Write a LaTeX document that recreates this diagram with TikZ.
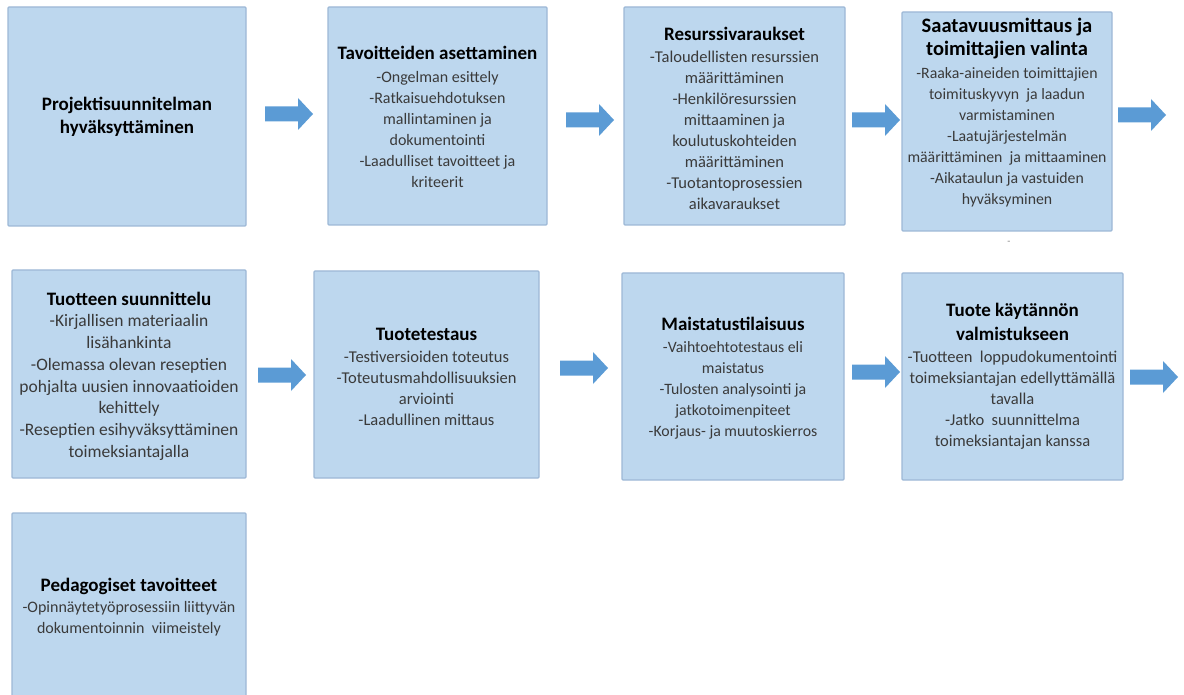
\documentclass[tikz,border=0pt]{standalone}
\usepackage{fontspec}
\setmainfont{Carlito}
\definecolor{boxfill}{HTML}{BDD7EE}
\definecolor{boxline}{HTML}{9DB8D6}
\definecolor{arrowblue}{HTML}{5B9BD5}
\definecolor{bodytext}{HTML}{3A3A3A}
\tikzset{
  procbox/.style={draw=boxline, fill=boxfill, line width=1.2pt, rounded corners=1pt},
  boxtext/.style={align=center, inner sep=0pt, text=bodytext, font=\fontsize{16}{21}\selectfont},
  blockarrow/.style={fill=arrowblue, draw=none},
}
\newcommand{\ttl}[1]{{\fontsize{19}{21}\selectfont\bfseries\color{black}#1}}
\newcommand{\ttlb}[1]{{\fontsize{20.5}{21}\selectfont\bfseries\color{black}#1}}
% block arrow: #1 name, #2 left x, #3 centre y
\newcommand{\blkarrow}[3]{%
  \coordinate (#1) at (#2,#3);
  \path[blockarrow] (#1) ++(0,-7.5) -- ++(33,0) -- ++(0,-8.5) -- ++(15,16) -- ++(-15,16) -- ++(0,-8.5) -- ++(-33,0) -- cycle;}
\begin{document}
\begin{tikzpicture}[x=1pt,y=-1pt]
\useasboundingbox (0,0) rectangle (1184,695);
\clip (0,0) rectangle (1184,695);
% boxes
\draw[procbox] (8,7) rectangle (246,226) coordinate (b1);
\draw[procbox] (328,7) rectangle (547,225) coordinate (b2);
\draw[procbox] (624,7) rectangle (845,225) coordinate (b3);
\draw[procbox] (902,12) rectangle (1112,231) coordinate (b4);
\draw[procbox] (12,270) rectangle (246,478) coordinate (b5);
\draw[procbox] (314,271) rectangle (539,478) coordinate (b6);
\draw[procbox] (622,273) rectangle (844,480) coordinate (b7);
\draw[procbox] (902,273) rectangle (1123,480) coordinate (b8);
\draw[procbox] (12,513) rectangle (246,720) coordinate (b9);
% texts
\node[boxtext] (t1) at (127,117) {\ttl{Projektisuunnitelman}\\[2pt]\ttl{hyväksyttäminen}};
\node[boxtext] (t2) at (437.5,117) {\ttl{Tavoitteiden asettaminen}\\[2pt]-Ongelman esittely\\-Ratkaisuehdotuksen\\mallintaminen ja\\dokumentointi\\-Laadulliset tavoitteet ja\\kriteerit};
\node[boxtext, font=\fontsize{16.5}{21}\selectfont] (t3) at (734.5,118) {\ttl{Resurssivaraukset}\\[1pt]-Taloudellisten resurssien\\määrittäminen\\-Henkilöresurssien\\mittaaminen ja\\koulutuskohteiden\\määrittäminen\\-Tuotantoprosessien\\aikavaraukset};
\node[boxtext, font=\fontsize{15.8}{21}\selectfont] (t4) at (1007,113) {\ttlb{Saatavuusmittaus ja}\\[2pt]\ttlb{toimittajien valinta}\\[2pt]-Raaka-aineiden toimittajien\\toimituskyvyn\ \ ja laadun\\varmistaminen\\-Laatujärjestelmän\\määrittäminen\ \ ja mittaaminen\\-Aikataulun ja vastuiden\\hyväksyminen};
\node[boxtext, font=\fontsize{17.5}{21.7}\selectfont] (t5) at (129,376) {\ttl{Tuotteen suunnittelu}\\-Kirjallisen materiaalin\\lisähankinta\\-Olemassa olevan reseptien\\pohjalta uusien innovaatioiden\\kehittely\\-Reseptien esihyväksyttäminen\\toimeksiantajalla};
\node[boxtext, font=\fontsize{16.5}{21}\selectfont] (t6) at (426.5,377) {\ttl{Tuotetestaus}\\[1pt]-Testiversioiden toteutus\\-Toteutusmahdollisuuksien\\arviointi\\-Laadullinen mittaus};
\node[boxtext, font=\fontsize{15.8}{21}\selectfont] (t7) at (733,378) {\ttl{Maistatustilaisuus}\\[1pt]-Vaihtoehtotestaus eli\\maistatus\\-Tulosten analysointi ja\\jatkotoimenpiteet\\-Korjaus- ja muutoskierros};
\node[boxtext, font=\fontsize{16.5}{21}\selectfont] (t8) at (1012.5,376) {\ttl{Tuote käytännön}\\[3pt]\ttl{valmistukseen}\\[1pt]-Tuotteen\ \ loppudokumentointi\\toimeksiantajan edellyttämällä\\tavalla\\-Jatko\ \ suunnittelma\\toimeksiantajan kanssa};
\node[boxtext] (t9) at (129,607) {\ttl{Pedagogiset tavoitteet}\\-Opinnäytetyöprosessiin liittyvän\\dokumentoinnin\ \ viimeistely};
\node[text=gray, font=\fontsize{10}{12}\selectfont, inner sep=0pt] (dash) at (1009,243) {-};
% arrows
\blkarrow{a1}{265}{114}
\blkarrow{a2}{566}{120}
\blkarrow{a3}{852}{120}
\blkarrow{a4}{1118}{115}
\blkarrow{a5}{258}{375}
\blkarrow{a6}{560}{368}
\blkarrow{a7}{852}{372}
\blkarrow{a8}{1130}{377}
\end{tikzpicture}
\end{document}
